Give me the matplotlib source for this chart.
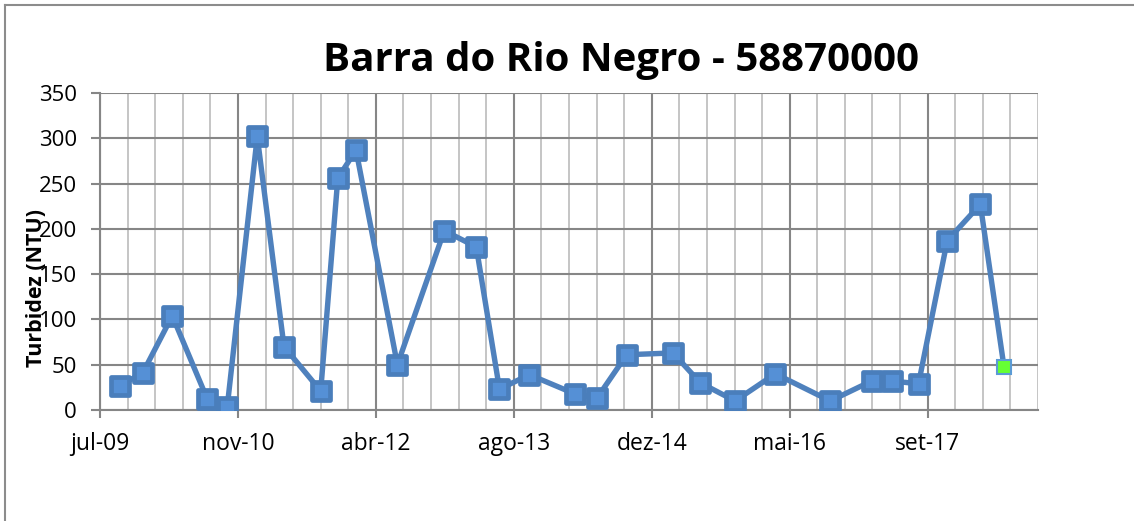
import numpy as np
import pandas as pd
import matplotlib
matplotlib.use("Agg")
import matplotlib.pyplot as plt
import matplotlib.dates as mdates
from matplotlib.markers import MarkerStyle
from matplotlib.ticker import FixedLocator, FuncFormatter

# Sampling dates and turbidity values (NTU)
dates = ["2009-09-16", "2009-12-08", "2010-03-25", "2010-07-30", "2010-10-10",
         "2011-01-27", "2011-05-04", "2011-09-14", "2011-11-15", "2012-01-20",
         "2012-06-18", "2012-12-05", "2013-03-31", "2013-06-23", "2013-10-09",
         "2014-03-22", "2014-06-11", "2014-09-27", "2015-03-14", "2015-06-21",
         "2015-10-25", "2016-03-19", "2016-10-04", "2017-03-03", "2017-05-15",
         "2017-08-20", "2017-12-02", "2018-04-01", "2018-06-26"]
turbidez = [27, 41, 104, 12, 3, 302, 70, 21, 256, 287,
            50, 198, 180, 23, 39, 18, 13, 61, 63, 30,
            10, 40, 10, 32, 32, 29, 187, 227, 47]

title = "Barra do Rio Negro - 58870000"
ylabel = "Turbidez (NTU)"
meses = ["jan", "fev", "mar", "abr", "mai", "jun",
         "jul", "ago", "set", "out", "nov", "dez"]

# Excel-like date axis: start 2009-07-06, major every 500 days, minor every 100
x_start = pd.Timestamp("2009-07-06")
x_end = x_start + pd.Timedelta(days=3400)

plt.rcParams["font.family"] = ["Open Sans", "DejaVu Sans"]

x = mdates.date2num(pd.to_datetime(dates).to_pydatetime())
y = np.array(turbidez, dtype=float)

fig = plt.figure(figsize=(11.34, 5.21), dpi=100)
W, H = 1134, 521
ax = fig.add_axes([100 / W, 1 - 410 / H, (1038 - 100) / W, (410 - 93) / H])

blue = "#4F81BD"
sq = MarkerStyle("s", joinstyle="round")
ax.plot(x[:-1], y[:-1], color=blue, lw=3.9, solid_joinstyle="round", zorder=3)
ax.plot(x[-2:], y[-2:], color=blue, lw=3.9, zorder=3)
ax.plot(x[:-1], y[:-1], ls="none", marker=sq, ms=12.5, mew=3.4,
        mfc="#5590D6", mec="#4A7EBB", zorder=4)
ax.plot(x[-1:], y[-1:], ls="none", marker="s", ms=10, mew=1.5,
        mfc="#66FF33", mec="#5B9BD5", zorder=5)

x0 = mdates.date2num(x_start.to_pydatetime())
x1 = mdates.date2num(x_end.to_pydatetime())
ax.set_xlim(x0, x1)
ax.set_ylim(0, 350)
ax.xaxis.set_major_locator(FixedLocator(x0 + np.arange(0, 3401, 500)))
ax.xaxis.set_minor_locator(FixedLocator(x0 + np.arange(0, 3401, 100)))
ax.set_yticks(np.arange(0, 351, 50))


def fmt_mes(v, pos):
    d = mdates.num2date(v)
    return f"{meses[d.month - 1]}-{d.year % 100:02d}"


ax.xaxis.set_major_formatter(FuncFormatter(fmt_mes))

ax.grid(True, which="minor", axis="x", color="#C0C0C0", lw=1.3, zorder=0)
ax.grid(True, which="major", axis="x", color="#868686", lw=1.5, zorder=1)
ax.grid(True, which="major", axis="y", color="#868686", lw=1.5, zorder=1)
ax.set_axisbelow(True)

for s in ["top", "right"]:
    ax.spines[s].set_visible(False)
ax.spines["left"].set_color("#868686")
ax.spines["bottom"].set_color("#868686")
ax.spines["left"].set_linewidth(1.5)
ax.spines["bottom"].set_linewidth(1.5)

ax.tick_params(axis="x", which="major", length=6, width=1.5, color="#868686",
               labelsize=16.5, pad=10)
ax.tick_params(axis="x", which="minor", length=0)
ax.tick_params(axis="y", length=6.5, width=1.5, color="#868686",
               labelsize=16, pad=10)

fig.text(621 / W, 1 - 60 / H, title, ha="center", va="center",
         fontsize=29, fontweight="bold")
fig.text(37 / W, 1 - 288 / H, ylabel, ha="center", va="center",
         rotation=90, fontsize=15.5, fontweight="bold")

# chart area border (top and left visible in the crop)
fig.add_artist(plt.Line2D([5 / W, 1], [1 - 4.5 / H, 1 - 4.5 / H],
                          color="#8C8C8C", lw=1.5, transform=fig.transFigure))
fig.add_artist(plt.Line2D([5 / W, 5 / W], [0, 1 - 4.5 / H],
                          color="#8C8C8C", lw=1.5, transform=fig.transFigure))

fig.savefig("out.png", dpi=100)
